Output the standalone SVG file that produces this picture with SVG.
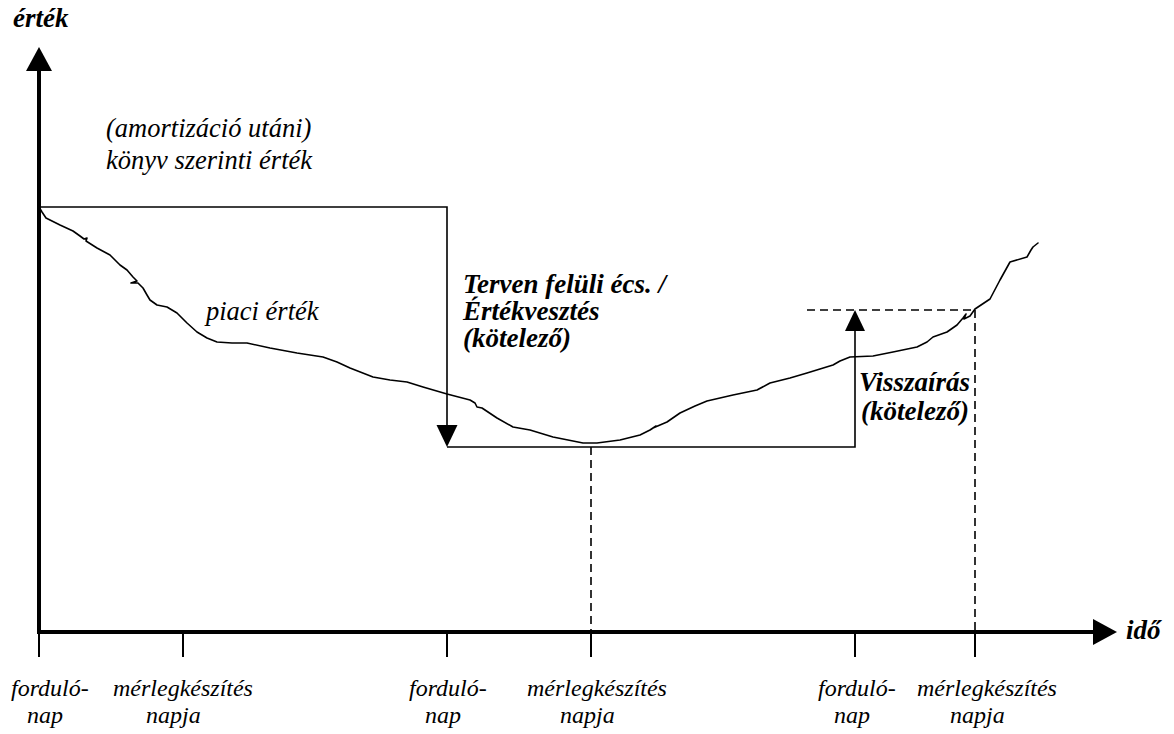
<svg xmlns="http://www.w3.org/2000/svg" width="1174" height="734" viewBox="0 0 1174 734">
<style>
.axis{stroke:#000;stroke-width:4;fill:none}
.thin{stroke:#000;stroke-width:1.6;fill:none}
.dash{stroke:#000;stroke-width:1.6;fill:none;stroke-dasharray:8 5}
.tick{stroke:#000;stroke-width:2;fill:none}
.curve{stroke:#000;stroke-width:1.6;fill:none;stroke-linejoin:round;stroke-linecap:round}
.head{fill:#000;stroke:none}
text{font-family:'Liberation Serif','Tinos','Noto Serif','DejaVu Serif','FreeSerif','Times New Roman',serif;font-style:italic;fill:#000}
.lbl{font-size:26.5px}
.bl{font-weight:bold;font-size:27px}
.tl{font-size:24px}
</style>
<rect width="1174" height="734" fill="#fff"/>
<g id="axes">
  <line class="axis" x1="39" y1="68" x2="39" y2="634"/>
  <polygon class="head" points="39,47 26,71 52,71"/>
  <line class="axis" x1="37" y1="632" x2="1096" y2="632"/>
  <polygon class="head" points="1117,632 1093,619 1093,645"/>
  <text class="bl" x="13" y="27">érték</text>
  <text class="bl" x="1126" y="639">idő</text>
</g>
<g id="ticks">
  <line class="tick" x1="39" y1="632" x2="39" y2="657"/>
  <line class="tick" x1="183" y1="632" x2="183" y2="657"/>
  <line class="tick" x1="447" y1="632" x2="447" y2="657"/>
  <line class="tick" x1="591" y1="632" x2="591" y2="657"/>
  <line class="tick" x1="855" y1="632" x2="855" y2="657"/>
  <line class="tick" x1="975" y1="632" x2="975" y2="657"/>
</g>
<g id="book-value">
  <text class="lbl" x="106" y="137">(amortizáció utáni)</text>
  <text class="lbl" x="106" y="169">könyv szerinti érték</text>
</g>
<g id="connectors">
  <polyline class="thin" points="39,207 447,207 447,428"/>
  <polygon class="head" points="447,447 436.5,425 457.5,425"/>
  <polyline class="thin" points="447,447 855,447 855,328"/>
  <polygon class="head" points="855,310 845,331 865,331"/>
  <line class="dash" x1="807" y1="310" x2="975" y2="310"/>
  <line class="dash" x1="975" y1="310" x2="975" y2="632"/>
  <line class="dash" x1="591" y1="447" x2="591" y2="632"/>
</g>
<g id="market-value">
  <path class="curve" d="M39,207 L42,212 L46,218 L60,225 L73,231 L80,236 L84,239 L87,238 L86,241 L97,248 L110,255 L120,265 L127,270 L133,277 L137,281 L131,283 L138,283 L143,288 L147,295 L150,300 L157,305 L167,307 L177,313 L187,323 L197,332 L207,338 L217,342 L232,343 L247,343 L270,348 L297,353 L323,357 L337,362 L350,368 L373,377 L390,380 L407,382 L423,387 L447,394 L470,400 L475,403 L477,407 L482,408 L497,418 L513,427 L530,430 L553,437 L583,443 L597,443 L620,440 L640,435 L650,430 L656,426 L653,428 L667,422 L680,413 L695,406 L707,401 L733,395 L757,390 L770,383 L790,378 L807,373 L820,369 L833,365 L840,361 L850,357 L873,356 L893,352 L917,347 L927,342 L933,337 L947,332 L957,325 L963,318 L966,314 L964,319 L970,316 L975,309 L990,299 L1000,280 L1010,262 L1027,257 L1031,250 L1033,247 L1038,243"/>
  <text class="lbl" x="206" y="320">piaci érték</text>
</g>
<g id="impairment-label">
  <text class="bl" x="463" y="293">Terven felüli écs. /</text>
  <text class="bl" x="463" y="320">Értékvesztés</text>
  <text class="bl" x="463" y="347">(kötelező)</text>
</g>
<g id="reversal-label">
  <text class="bl" x="859" y="391">Visszaírás</text>
  <text class="bl" x="861" y="420">(kötelező)</text>
</g>
<g id="time-labels">
  <text class="tl" x="11" y="696">forduló-</text>
  <text class="tl" x="27" y="723">nap</text>
  <text class="tl" x="113" y="696">mérlegkészítés</text>
  <text class="tl" x="146" y="723">napja</text>
  <text class="tl" x="409" y="696">forduló-</text>
  <text class="tl" x="425" y="723">nap</text>
  <text class="tl" x="527" y="696">mérlegkészítés</text>
  <text class="tl" x="560" y="723">napja</text>
  <text class="tl" x="818" y="696">forduló-</text>
  <text class="tl" x="834" y="723">nap</text>
  <text class="tl" x="917" y="696">mérlegkészítés</text>
  <text class="tl" x="950" y="723">napja</text>
</g>
</svg>
